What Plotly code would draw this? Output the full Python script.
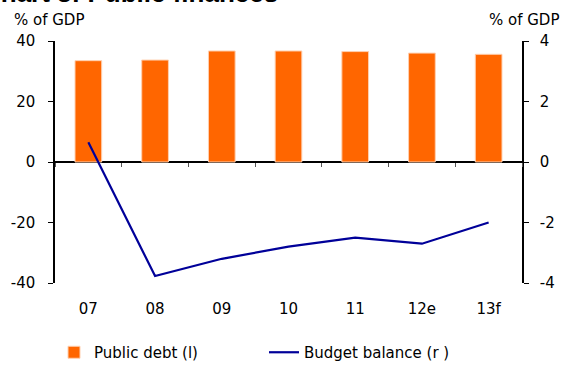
import plotly.graph_objects as go

categories = ["07", "08", "09", "10", "11", "12e", "13f"]
public_debt = [33.5, 33.7, 36.7, 36.7, 36.5, 36.0, 35.6]
budget_balance = [0.65, -3.77, -3.2, -2.8, -2.5, -2.7, -2.0]
left_ticks = [-40, -20, 0, 20, 40]
left_labels = ["-40", "-20", "0", "20", "40"]
right_ticks = [-4, -2, 0, 2, 4]
right_labels = ["-4", "-2", "0", "2", "4"]

FONT = "DejaVu Sans"
PLOT_H = 365 - 41 - 82
PLOT_W = 561 - 55 - 39


def py(px):
    return 1 + (41 - px) / PLOT_H


def px_x(px):
    return (px - 55) / PLOT_W


fig = go.Figure()
fig.add_trace(go.Bar(
    x=categories, y=public_debt, name="Public debt (l)",
    marker=dict(color="#FF6600", line=dict(color="#FFD0B0", width=1)),
    width=0.4, yaxis="y", xaxis="x",
))
fig.add_trace(go.Scatter(
    x=categories, y=budget_balance, name="Budget balance (r )",
    mode="lines", line=dict(color="#000099", width=2.2),
    yaxis="y2", xaxis="x",
))
# invisible trace to drive the boundary tick axis at the zero line
fig.add_trace(go.Scatter(
    x=categories, y=[0] * len(categories), mode="markers",
    marker=dict(opacity=0), showlegend=False, hoverinfo="skip",
    xaxis="x2", yaxis="y",
))

fig.update_layout(
    width=561, height=365,
    margin=dict(l=55, r=39, t=41, b=82, autoexpand=False),
    paper_bgcolor="white", plot_bgcolor="white",
    font=dict(family=FONT, size=15, color="black"),
    showlegend=True,
    legend=dict(orientation="h", x=px_x(94 - 40), y=py(336), xanchor="left", yanchor="top",
                entrywidth=165, font=dict(size=15), itemwidth=30,
                tracegroupgap=0),
    xaxis=dict(type="category", range=[-0.5, 6.5], showline=False, showgrid=False,
               ticks="outside", ticklen=12, tickcolor="rgba(0,0,0,0)",
               tickfont=dict(size=15), zeroline=False),
    xaxis2=dict(type="category", range=[-0.5, 6.5], overlaying="x", anchor="free",
                position=0.5, side="bottom", showline=False, showgrid=False,
                ticks="outside", ticklen=4, tickcolor="#555", tickson="boundaries",
                showticklabels=False),
    yaxis=dict(range=[-40, 40], tickvals=left_ticks, ticktext=left_labels,
               showgrid=False, zeroline=True,
               zerolinecolor="black", zerolinewidth=1.5, showline=True,
               linecolor="black", linewidth=1.5, ticks="outside", ticklen=5,
               tickcolor="black", tickfont=dict(size=15), ticklabelstandoff=10),
    yaxis2=dict(range=[-4, 4], tickvals=right_ticks, ticktext=right_labels,
                overlaying="y", side="right",
                showgrid=False, zeroline=False, showline=True, linecolor="black",
                linewidth=1.5, ticks="outside", ticklen=5, tickcolor="black",
                tickfont=dict(size=15), ticklabelstandoff=8),
    annotations=[
        dict(text="% of GDP", xref="paper", yref="paper", x=px_x(12), y=py(20),
             xanchor="left", yanchor="middle", showarrow=False, font=dict(size=15)),
        dict(text="% of GDP", xref="paper", yref="paper", x=px_x(561), y=py(20),
             xanchor="right", yanchor="middle", showarrow=False, font=dict(size=15)),
        dict(text="<b>Chart 3: Public finances</b>", xref="paper", yref="paper",
             x=px_x(-20), y=py(10), xanchor="left", yanchor="bottom",
             showarrow=False, font=dict(family="Liberation Sans", size=26)),
    ],
)

fig.write_html("out.html")
